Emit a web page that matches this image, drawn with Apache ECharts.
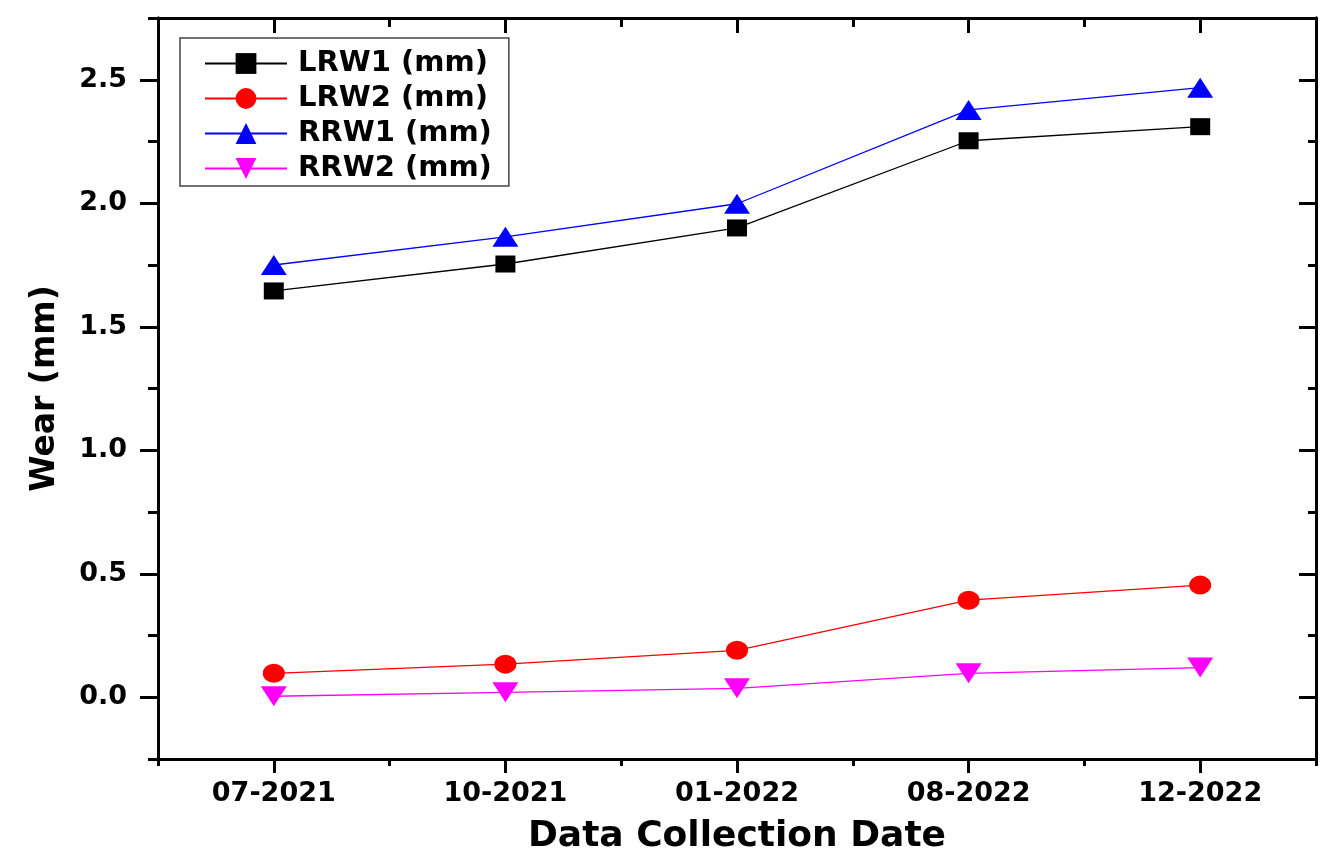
<!DOCTYPE html>
<html>
<head>
<meta charset="utf-8">
<script src="https://cdn.jsdelivr.net/npm/echarts@6/dist/echarts.min.js"></script>
<style>html,body{margin:0;padding:0;background:#fff}#c{width:1321px;height:867px}</style>
</head>
<body>
<div id="c"></div>
<script>
const categories = ['07-2021', '10-2021', '01-2022', '08-2022', '12-2022'];
const lrw1 = [1.645, 1.754, 1.900, 2.253, 2.310];
const lrw2 = [0.097, 0.134, 0.190, 0.393, 0.454];
const rrw1 = [1.750, 1.864, 1.998, 2.378, 2.468];
const rrw2 = [0.004, 0.020, 0.036, 0.097, 0.120];
const yMajorTicks = [0, 0.5, 1.0, 1.5, 2.0, 2.5];
const yMinorTicks = [-0.25, 0.25, 0.75, 1.25, 1.75, 2.25, 2.75];

const FONT = 'DejaVu Sans';
const yBase = {type: 'value', min: -0.25, max: 2.75, interval: 0.25, splitLine: {show: false}};
const axLine = {show: true, onZero: false, lineStyle: {color: '#000', width: 3}};
const tickStyle = {color: '#000', width: 3};

const chart = echarts.init(document.getElementById('c'));
chart.setOption({
  animation: false,
  backgroundColor: '#fff',
  grid: {left: 158, top: 18, right: 5, bottom: 108},
  legend: {
    left: 180, top: 38, orient: 'vertical',
    itemWidth: 82, itemHeight: 26, itemGap: 6,
    padding: [11, 17, 3, 24],
    borderColor: '#444', borderWidth: 1.5,
    textStyle: {fontFamily: FONT, fontWeight: 'bold', fontSize: 29, lineHeight: 26, color: '#000', padding: [0, 0, 0, 6]}
  },
  xAxis: [
    {type: 'category', data: categories, position: 'bottom', boundaryGap: true,
     axisLine: axLine, axisTick: {show: true, alignWithLabel: true, length: 14, lineStyle: tickStyle},
     axisLabel: {fontFamily: FONT, fontWeight: 'bold', fontSize: 27, color: '#000', margin: 21},
     name: 'Data Collection Date', nameLocation: 'middle', nameGap: 60,
     nameTextStyle: {fontFamily: FONT, fontWeight: 'bold', fontSize: 36, color: '#000'}},
    {type: 'category', data: categories, position: 'bottom', boundaryGap: true,
     axisLine: axLine, axisTick: {show: true, alignWithLabel: false, length: 7, lineStyle: tickStyle},
     axisLabel: {show: false}},
    {type: 'category', data: categories, position: 'top', boundaryGap: true,
     axisLine: axLine, axisTick: {show: true, inside: true, alignWithLabel: true, length: 15, lineStyle: tickStyle},
     axisLabel: {show: false}},
    {type: 'category', data: categories, position: 'top', boundaryGap: true,
     axisLine: axLine, axisTick: {show: true, inside: true, alignWithLabel: false, length: 9, lineStyle: tickStyle},
     axisLabel: {show: false}}
  ],
  yAxis: [
    Object.assign({}, yBase, {position: 'left', axisLine: axLine,
      axisTick: {show: true, length: 18, lineStyle: tickStyle, customValues: yMajorTicks},
      axisLabel: {fontFamily: FONT, fontWeight: 'bold', fontSize: 27, color: '#000', margin: 31,
        customValues: yMajorTicks, formatter: v => v.toFixed(1)},
      name: 'Wear (mm)', nameLocation: 'middle', nameGap: 96,
      nameTextStyle: {fontFamily: FONT, fontWeight: 'bold', fontSize: 33, color: '#000'}}),
    Object.assign({}, yBase, {position: 'left', axisLine: axLine,
      axisTick: {show: true, length: 10, lineStyle: tickStyle, customValues: yMinorTicks},
      axisLabel: {show: false}}),
    Object.assign({}, yBase, {position: 'right', axisLine: axLine,
      axisTick: {show: true, inside: true, length: 17, lineStyle: tickStyle, customValues: yMajorTicks},
      axisLabel: {show: false}}),
    Object.assign({}, yBase, {position: 'right', axisLine: axLine,
      axisTick: {show: true, inside: true, length: 8, lineStyle: tickStyle, customValues: yMinorTicks},
      axisLabel: {show: false}})
  ],
  series: [
    {name: 'LRW1 (mm)', type: 'line', data: lrw1, symbol: 'rect', symbolSize: [20, 17],
     itemStyle: {color: '#000'}, lineStyle: {color: '#000', width: 1.3}},
    {name: 'LRW2 (mm)', type: 'line', data: lrw2, symbol: 'circle', symbolSize: [22, 19],
     itemStyle: {color: '#ff0000'}, lineStyle: {color: '#ff0000', width: 1.3}},
    {name: 'RRW1 (mm)', type: 'line', data: rrw1, symbol: 'triangle', symbolSize: [26, 20],
     itemStyle: {color: '#0000ff'}, lineStyle: {color: '#0000ff', width: 1.3}},
    {name: 'RRW2 (mm)', type: 'line', data: rrw2, symbol: 'triangle', symbolRotate: 180, symbolSize: [26, 20],
     itemStyle: {color: '#ff00ff'}, lineStyle: {color: '#ff00ff', width: 1.3}}
  ]
});
</script>
</body>
</html>
